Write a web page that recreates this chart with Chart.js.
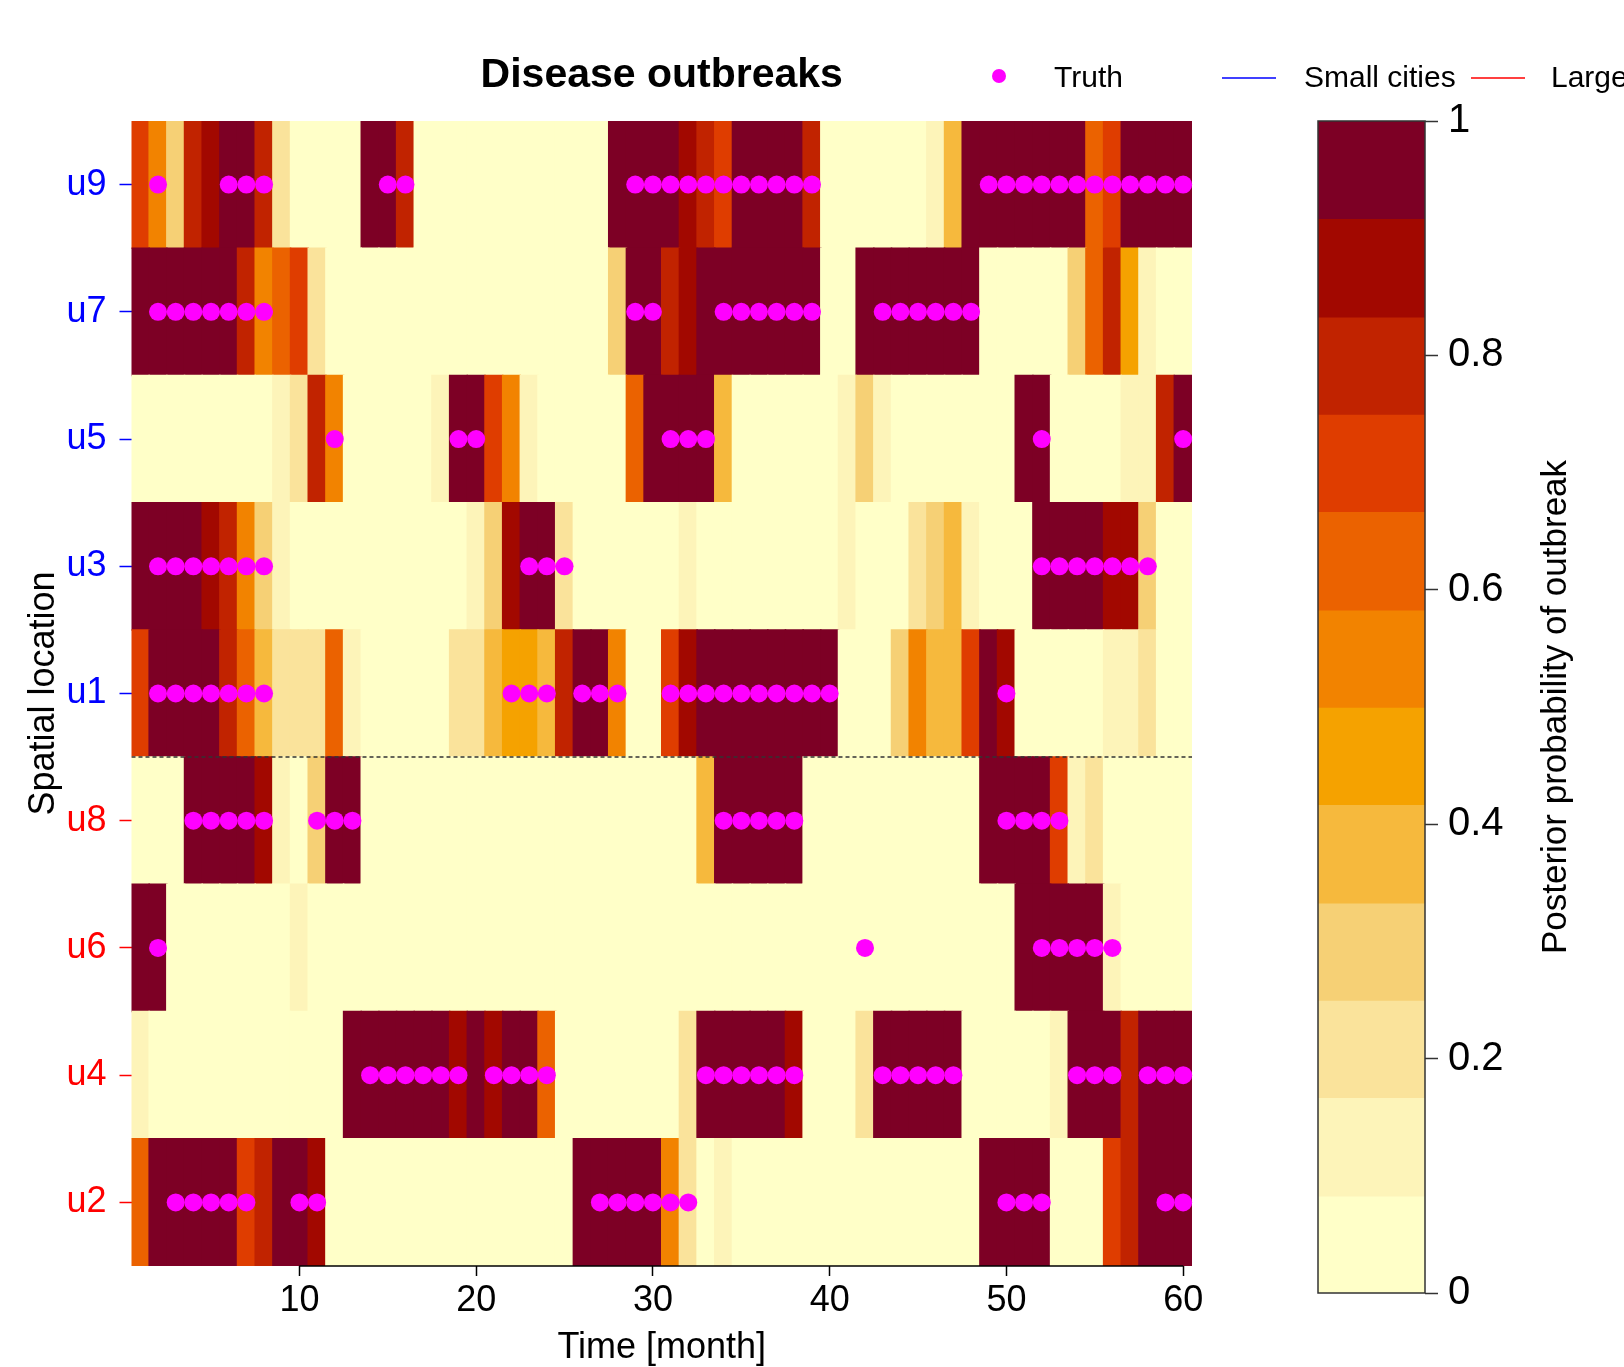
<!DOCTYPE html>
<html>
<head>
<meta charset="utf-8">
<title>Disease outbreaks</title>
<script src="https://cdn.jsdelivr.net/npm/chart.js@4.4.1/dist/chart.umd.min.js"></script>
<style>
  html, body { margin: 0; padding: 0; background: #fff; }
  #wrap { position: relative; width: 1624px; height: 1367px; }
  #wrap canvas { position: absolute; left: 0; top: 0; }
</style>
</head>
<body>
<div id="wrap">
  <canvas id="heatChart" width="1624" height="1367"></canvas>
  <canvas id="scaleChart" width="1624" height="1367"></canvas>
</div>
<script>
// posterior probability of outbreak, months 1..60, one array per location
const probU9 = [
  0.71, 0.54, 0.29, 0.79, 0.88, 0.97, 0.97, 0.79, 0.21, 0.02,
  0.02, 0.02, 0.02, 0.97, 0.97, 0.79, 0.02, 0.02, 0.02, 0.02,
  0.02, 0.02, 0.02, 0.02, 0.02, 0.02, 0.02, 0.97, 0.97, 0.97,
  0.97, 0.88, 0.79, 0.71, 0.97, 0.97, 0.97, 0.97, 0.79, 0.02,
  0.02, 0.02, 0.02, 0.02, 0.02, 0.12, 0.38, 0.97, 0.97, 0.97,
  0.97, 0.97, 0.97, 0.97, 0.62, 0.71, 0.97, 0.97, 0.97, 0.97];
const probU7 = [
  0.97, 0.97, 0.97, 0.97, 0.97, 0.97, 0.79, 0.54, 0.62, 0.71,
  0.21, 0.02, 0.02, 0.02, 0.02, 0.02, 0.02, 0.02, 0.02, 0.02,
  0.02, 0.02, 0.02, 0.02, 0.02, 0.02, 0.02, 0.29, 0.97, 0.97,
  0.79, 0.88, 0.97, 0.97, 0.97, 0.97, 0.97, 0.97, 0.97, 0.02,
  0.02, 0.97, 0.97, 0.97, 0.97, 0.97, 0.97, 0.97, 0.02, 0.02,
  0.02, 0.02, 0.02, 0.29, 0.62, 0.79, 0.46, 0.12, 0.02, 0.02];
const probU5 = [
  0.02, 0.02, 0.02, 0.02, 0.02, 0.02, 0.02, 0.02, 0.12, 0.21,
  0.79, 0.54, 0.02, 0.02, 0.02, 0.02, 0.02, 0.12, 0.97, 0.97,
  0.71, 0.54, 0.12, 0.02, 0.02, 0.02, 0.02, 0.02, 0.62, 0.97,
  0.97, 0.97, 0.97, 0.38, 0.02, 0.02, 0.02, 0.02, 0.02, 0.02,
  0.12, 0.29, 0.12, 0.02, 0.02, 0.02, 0.02, 0.02, 0.02, 0.02,
  0.97, 0.97, 0.02, 0.02, 0.02, 0.02, 0.12, 0.12, 0.79, 0.97];
const probU3 = [
  0.97, 0.97, 0.97, 0.97, 0.88, 0.79, 0.54, 0.29, 0.12, 0.02,
  0.02, 0.02, 0.02, 0.02, 0.02, 0.02, 0.02, 0.02, 0.02, 0.12,
  0.29, 0.88, 0.97, 0.97, 0.21, 0.02, 0.02, 0.02, 0.02, 0.02,
  0.02, 0.12, 0.02, 0.02, 0.02, 0.02, 0.02, 0.02, 0.02, 0.02,
  0.12, 0.02, 0.02, 0.02, 0.21, 0.29, 0.38, 0.12, 0.02, 0.02,
  0.02, 0.97, 0.97, 0.97, 0.97, 0.88, 0.88, 0.29, 0.02, 0.02];
const probU1 = [
  0.71, 0.97, 0.97, 0.97, 0.97, 0.79, 0.62, 0.38, 0.21, 0.21,
  0.21, 0.62, 0.12, 0.02, 0.02, 0.02, 0.02, 0.02, 0.21, 0.21,
  0.38, 0.46, 0.46, 0.38, 0.79, 0.97, 0.97, 0.54, 0.02, 0.02,
  0.71, 0.88, 0.97, 0.97, 0.97, 0.97, 0.97, 0.97, 0.97, 0.97,
  0.02, 0.02, 0.02, 0.29, 0.54, 0.38, 0.38, 0.71, 0.97, 0.88,
  0.02, 0.02, 0.02, 0.02, 0.02, 0.12, 0.12, 0.21, 0.02, 0.02];
const probU8 = [
  0.02, 0.02, 0.02, 0.97, 0.97, 0.97, 0.97, 0.88, 0.12, 0.02,
  0.29, 0.97, 0.97, 0.02, 0.02, 0.02, 0.02, 0.02, 0.02, 0.02,
  0.02, 0.02, 0.02, 0.02, 0.02, 0.02, 0.02, 0.02, 0.02, 0.02,
  0.02, 0.02, 0.38, 0.97, 0.97, 0.97, 0.97, 0.97, 0.02, 0.02,
  0.02, 0.02, 0.02, 0.02, 0.02, 0.02, 0.02, 0.02, 0.97, 0.97,
  0.97, 0.97, 0.71, 0.12, 0.21, 0.02, 0.02, 0.02, 0.02, 0.02];
const probU6 = [
  0.97, 0.97, 0.02, 0.02, 0.02, 0.02, 0.02, 0.02, 0.02, 0.12,
  0.02, 0.02, 0.02, 0.02, 0.02, 0.02, 0.02, 0.02, 0.02, 0.02,
  0.02, 0.02, 0.02, 0.02, 0.02, 0.02, 0.02, 0.02, 0.02, 0.02,
  0.02, 0.02, 0.02, 0.02, 0.02, 0.02, 0.02, 0.02, 0.02, 0.02,
  0.02, 0.02, 0.02, 0.02, 0.02, 0.02, 0.02, 0.02, 0.02, 0.02,
  0.97, 0.97, 0.97, 0.97, 0.97, 0.12, 0.02, 0.02, 0.02, 0.02];
const probU4 = [
  0.12, 0.02, 0.02, 0.02, 0.02, 0.02, 0.02, 0.02, 0.02, 0.02,
  0.02, 0.02, 0.97, 0.97, 0.97, 0.97, 0.97, 0.97, 0.88, 0.97,
  0.88, 0.97, 0.97, 0.62, 0.02, 0.02, 0.02, 0.02, 0.02, 0.02,
  0.02, 0.21, 0.97, 0.97, 0.97, 0.97, 0.97, 0.88, 0.02, 0.02,
  0.02, 0.21, 0.97, 0.97, 0.97, 0.97, 0.97, 0.02, 0.02, 0.02,
  0.02, 0.02, 0.12, 0.97, 0.97, 0.97, 0.79, 0.97, 0.97, 0.97];
const probU2 = [
  0.62, 0.97, 0.97, 0.97, 0.97, 0.97, 0.71, 0.79, 0.97, 0.97,
  0.88, 0.02, 0.02, 0.02, 0.02, 0.02, 0.02, 0.02, 0.02, 0.02,
  0.02, 0.02, 0.02, 0.02, 0.02, 0.97, 0.97, 0.97, 0.97, 0.97,
  0.54, 0.21, 0.02, 0.12, 0.02, 0.02, 0.02, 0.02, 0.02, 0.02,
  0.02, 0.02, 0.02, 0.02, 0.02, 0.02, 0.02, 0.02, 0.97, 0.97,
  0.97, 0.97, 0.02, 0.02, 0.02, 0.71, 0.79, 0.97, 0.97, 0.97];

// months with a true outbreak
const truthU9 = [2, 6, 7, 8, 15, 16, 29, 30, 31, 32, 33, 34, 35, 36, 37, 38, 39,
  49, 50, 51, 52, 53, 54, 55, 56, 57, 58, 59, 60];
const truthU7 = [2, 3, 4, 5, 6, 7, 8, 29, 30, 34, 35, 36, 37, 38, 39, 43, 44, 45, 46, 47, 48];
const truthU5 = [12, 19, 20, 31, 32, 33, 52, 60];
const truthU3 = [2, 3, 4, 5, 6, 7, 8, 23, 24, 25, 52, 53, 54, 55, 56, 57, 58];
const truthU1 = [2, 3, 4, 5, 6, 7, 8, 22, 23, 24, 26, 27, 28, 31, 32, 33, 34, 35, 36, 37, 38, 39, 40, 50];
const truthU8 = [4, 5, 6, 7, 8, 11, 12, 13, 34, 35, 36, 37, 38, 50, 51, 52, 53];
const truthU6 = [2, 42, 52, 53, 54, 55, 56];
const truthU4 = [14, 15, 16, 17, 18, 19, 21, 22, 23, 24, 33, 34, 35, 36, 37, 38,
  43, 44, 45, 46, 47, 54, 55, 56, 58, 59, 60];
const truthU2 = [3, 4, 5, 6, 7, 10, 11, 27, 28, 29, 30, 31, 32, 50, 51, 52, 59, 60];

// locations from bottom to top
const locations = ['u2', 'u4', 'u6', 'u8', 'u1', 'u3', 'u5', 'u7', 'u9'];
const cityType = ['large', 'large', 'large', 'large', 'small', 'small', 'small', 'small', 'small'];
const locationProbs = [probU2, probU4, probU6, probU8, probU1, probU3, probU5, probU7, probU9];
const locationTruth = [truthU2, truthU4, truthU6, truthU8, truthU1, truthU3, truthU5, truthU7, truthU9];

const monthTicks = [10, 20, 30, 40, 50, 60];
const probTicks = [0, 0.2, 0.4, 0.6, 0.8, 1];
const legendLabels = ['Truth', 'Small cities', 'Large cities'];

const levelBreaks = [0, 0.083, 0.167, 0.25, 0.333, 0.417, 0.5, 0.583, 0.667, 0.75, 0.833, 0.917, 1];
const levelColors = ['#FFFFC8', '#FDF4B9', '#FAE39B', '#F6D075', '#F6B93D', '#F5A200',
  '#F28300', '#EB6200', '#DF3D00', '#C12300', '#A20800', '#7D0025'];
const cityColors = { small: '#0000FF', large: '#FF0000' };

const FONT = "'Liberation Sans', Arial, Helvetica, sans-serif";
Chart.defaults.font.family = FONT;
Chart.defaults.color = '#000';

function levelColor(p) {
  let k = 0;
  while (k < levelColors.length - 1 && p >= levelBreaks[k + 1]) k++;
  return levelColors[k];
}

const heatSets = locationProbs.map((probs, k) => ({
  type: 'bar',
  data: probs.map((p, i) => ({ x: i + 1, y: [k + 0.5, k + 1.5] })),
  backgroundColor: probs.map(levelColor),
  borderWidth: 0,
  barPercentage: 1,
  categoryPercentage: 1,
  inflateAmount: 0.75,
  grouped: false,
  order: 3
}));

const truthPoints = [];
locationTruth.forEach((months, k) => {
  months.forEach(m => truthPoints.push({ x: m, y: k + 1 }));
});

const heatDecor = {
  id: 'heatDecor',
  afterDraw(chart) {
    const { ctx, chartArea } = chart;
    const cx = (chartArea.left + chartArea.right) / 2;
    ctx.save();
    ctx.fillStyle = '#000';
    ctx.textAlign = 'center';
    ctx.textBaseline = 'alphabetic';
    ctx.font = 'bold 41px ' + FONT;
    ctx.fillText('Disease outbreaks', cx, 87);

    ctx.font = '36px ' + FONT;
    ctx.fillText('Time [month]', cx, 1358);

    ctx.translate(54, (chartArea.top + chartArea.bottom) / 2);
    ctx.rotate(-Math.PI / 2);
    ctx.fillText('Spatial location', 0, 0);
    ctx.restore();

    // legend
    ctx.save();
    ctx.font = '30px ' + FONT;
    ctx.textAlign = 'left';
    ctx.textBaseline = 'middle';
    ctx.fillStyle = '#FF00FF';
    ctx.beginPath();
    ctx.arc(999, 76, 7, 0, Math.PI * 2);
    ctx.fill();
    ctx.fillStyle = '#000';
    ctx.fillText(legendLabels[0], 1054, 79);
    ctx.lineWidth = 1.5;
    ctx.strokeStyle = cityColors.small;
    ctx.beginPath(); ctx.moveTo(1222, 78); ctx.lineTo(1276, 78); ctx.stroke();
    ctx.fillText(legendLabels[1], 1304, 79);
    ctx.strokeStyle = cityColors.large;
    ctx.beginPath(); ctx.moveTo(1471, 78); ctx.lineTo(1525, 78); ctx.stroke();
    ctx.fillText(legendLabels[2], 1551, 79);
    ctx.restore();
  }
};

new Chart(document.getElementById('heatChart'), {
  type: 'bar',
  data: {
    datasets: [
      ...heatSets,
      {
        type: 'line',
        data: [{ x: 0.5, y: 4.5 }, { x: 60.5, y: 4.5 }],
        borderColor: '#333',
        borderWidth: 1.5,
        borderDash: [4, 3],
        pointRadius: 0,
        fill: false,
        order: 2
      },
      {
        type: 'line',
        data: [{ x: 10, y: 0.5 }, { x: 60, y: 0.5 }],
        borderColor: '#000',
        borderWidth: 1.5,
        pointRadius: 0,
        fill: false,
        clip: false,
        order: 2
      },
      {
        type: 'scatter',
        data: truthPoints,
        backgroundColor: '#FF00FF',
        borderWidth: 0,
        pointRadius: 9,
        pointHoverRadius: 9,
        clip: false,
        order: 1
      }
    ]
  },
  options: {
    responsive: false,
    animation: false,
    events: [],
    layout: { padding: { left: 0, right: 432, top: 121, bottom: 0 } },
    plugins: { legend: { display: false }, tooltip: { enabled: false } },
    scales: {
      x: {
        type: 'linear',
        min: 0.5,
        max: 60.5,
        offset: false,
        afterBuildTicks: s => { s.ticks = monthTicks.map(v => ({ value: v })); },
        afterFit: s => { s.height = 101; },
        ticks: { font: { size: 36 }, color: '#000', padding: 3, maxRotation: 0, autoSkip: false,
          callback: v => String(v) },
        grid: { offset: false, drawOnChartArea: false, tickLength: 10, tickColor: '#000', tickWidth: 1.5 },
        border: { display: false }
      },
      y: {
        type: 'linear',
        min: 0.5,
        max: 9.5,
        afterBuildTicks: s => { s.ticks = locations.map((_, k) => ({ value: k + 1 })); },
        afterFit: s => { s.width = 131.5; },
        ticks: {
          font: { size: 36 },
          padding: 13,
          autoSkip: false,
          color: ctx => cityColors[cityType[ctx.tick.value - 1]],
          callback: v => locations[v - 1]
        },
        grid: {
          drawOnChartArea: false,
          tickLength: 12,
          tickWidth: 1.5,
          tickColor: ctx => cityColors[cityType[ctx.tick.value - 1]]
        },
        border: { display: false }
      }
    }
  },
  plugins: [heatDecor]
});

// colour key
const scaleDecor = {
  id: 'scaleDecor',
  afterDatasetsDraw(chart) {
    const { ctx, chartArea } = chart;
    ctx.save();
    ctx.strokeStyle = '#333';
    ctx.lineWidth = 1.5;
    ctx.strokeRect(chartArea.left, chartArea.top, chartArea.right - chartArea.left, chartArea.bottom - chartArea.top);
    ctx.restore();
  },
  afterDraw(chart) {
    const { ctx, chartArea } = chart;
    ctx.save();
    ctx.fillStyle = '#000';
    ctx.font = '35px ' + FONT;
    ctx.textAlign = 'center';
    ctx.textBaseline = 'alphabetic';
    ctx.translate(1566, (chartArea.top + chartArea.bottom) / 2);
    ctx.rotate(-Math.PI / 2);
    ctx.fillText('Posterior probability of outbreak', 0, 0);
    ctx.restore();
  }
};

new Chart(document.getElementById('scaleChart'), {
  type: 'bar',
  data: {
    labels: ['p'],
    datasets: [{
      data: levelColors.map((c, k) => ({ x: 'p', y: [levelBreaks[k], levelBreaks[k + 1]] })),
      backgroundColor: levelColors,
      borderWidth: 0,
      barPercentage: 1,
      categoryPercentage: 1,
      inflateAmount: 0.75,
      grouped: false
    }]
  },
  options: {
    responsive: false,
    animation: false,
    events: [],
    layout: { padding: { left: 1318, right: 0, top: 121, bottom: 74 } },
    plugins: { legend: { display: false }, tooltip: { enabled: false } },
    scales: {
      x: { display: false },
      y: {
        position: 'right',
        min: 0,
        max: 1,
        afterBuildTicks: s => { s.ticks = probTicks.map(v => ({ value: v })); },
        afterFit: s => { s.width = 199; },
        ticks: { font: { size: 40 }, color: '#000', padding: 10, callback: v => String(v) },
        grid: { drawOnChartArea: false, tickLength: 13, tickColor: '#333', tickWidth: 1.5 },
        border: { display: false }
      }
    }
  },
  plugins: [scaleDecor]
});
</script>
</body>
</html>
